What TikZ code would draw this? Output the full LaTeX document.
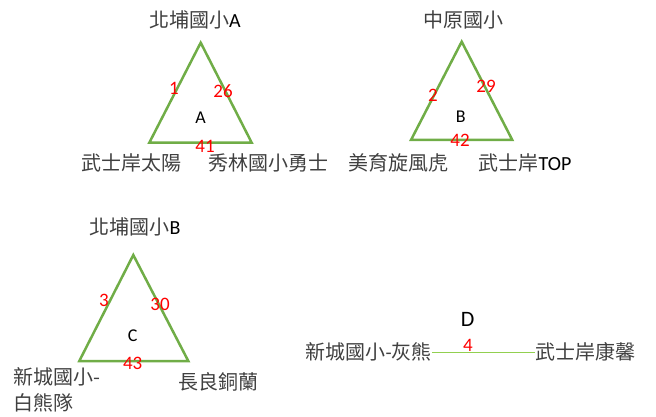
\documentclass[tikz,border=0pt]{standalone}
\usepackage{fontspec}
\setmainfont{Carlito}
\newfontfamily\cjk{Noto Sans CJK TC}
\definecolor{trigreen}{RGB}{112,173,71}
\definecolor{linegreen}{RGB}{146,208,80}
\definecolor{numred}{RGB}{255,0,0}
\definecolor{namegray}{RGB}{64,64,64}

\begin{document}
\begin{tikzpicture}[x=1pt, y=-1pt,
  team/.style={font=\fontsize{20}{26}\selectfont\cjk, text=namegray, inner sep=0pt},
  score/.style={font=\fontsize{19}{20}\selectfont, text=numred, inner sep=0pt},
  grp/.style={font=\fontsize{18}{20}\selectfont, inner sep=0pt},
  tri/.style={draw=trigreen, line width=2.5pt, line join=miter}
]
  \useasboundingbox (0,0) rectangle (656,417);

  % group A
  \coordinate (a1) at (200.7,42.7);
  \coordinate (a2) at (149.3,142.7);
  \coordinate (a3) at (251.7,142.7);
  \draw[tri] (a1) -- (a2) -- (a3) -- cycle;
  \node[team] (aTop) at (195,20) {北埔國小\textcolor{black}{\rmfamily A}};
  \node[team] (aLeft) at (131.7,163) {武士岸太陽};
  \node[team] (aRight) at (268,163) {秀林國小勇士};
  \node[grp] (aName) at (200.7,118) {A};
  \node[score] (aS1) at (174,88) {1};
  \node[score] (aS2) at (223,91) {26};
  \node[score] (aS3) at (205,146) {41};

  % group B
  \coordinate (b1) at (461.7,41.7);
  \coordinate (b2) at (411,140);
  \coordinate (b3) at (512.3,140);
  \draw[tri] (b1) -- (b2) -- (b3) -- cycle;
  \node[team] (bTop) at (463,20) {中原國小};
  \node[team] (bLeft) at (398,162.7) {美育旋風虎};
  \node[team] (bRight) at (525,163) {武士岸\textcolor{black}{\rmfamily TOP}};
  \node[grp] (bName) at (460.7,116.7) {B};
  \node[score] (bS1) at (433,95) {2};
  \node[score] (bS2) at (486,86) {29};
  \node[score] (bS3) at (460,140.7) {42};

  % group C
  \coordinate (c1) at (133.3,255);
  \coordinate (c2) at (79.3,361);
  \coordinate (c3) at (188.3,361);
  \draw[tri] (c1) -- (c2) -- (c3) -- cycle;
  \node[team] (cTop) at (135,226.7) {北埔國小\textcolor{black}{\rmfamily B}};
  \node[team, align=left, anchor=west] (cLeft) at (13,390) {新城國小-\\白熊隊};
  \node[team] (cRight) at (218,381.7) {長良銅蘭};
  \node[grp] (cName) at (132.7,336) {C};
  \node[score] (cS1) at (104,300) {3};
  \node[score] (cS2) at (160,304) {30};
  \node[score] (cS3) at (132.7,363) {43};

  % group D
  \node[grp, font=\fontsize{22}{24}\selectfont] (dName) at (467.7,319) {D};
  \node[team, anchor=east] (dLeft) at (432,352) {新城國小{\rmfamily -}灰熊};
  \node[team, anchor=west] (dRight) at (535,352) {武士岸康馨};
  \draw[linegreen, line width=1pt] (dLeft.east) -- (dRight.west);
  \node[score] (dS1) at (468,345) {4};
\end{tikzpicture}
\end{document}
